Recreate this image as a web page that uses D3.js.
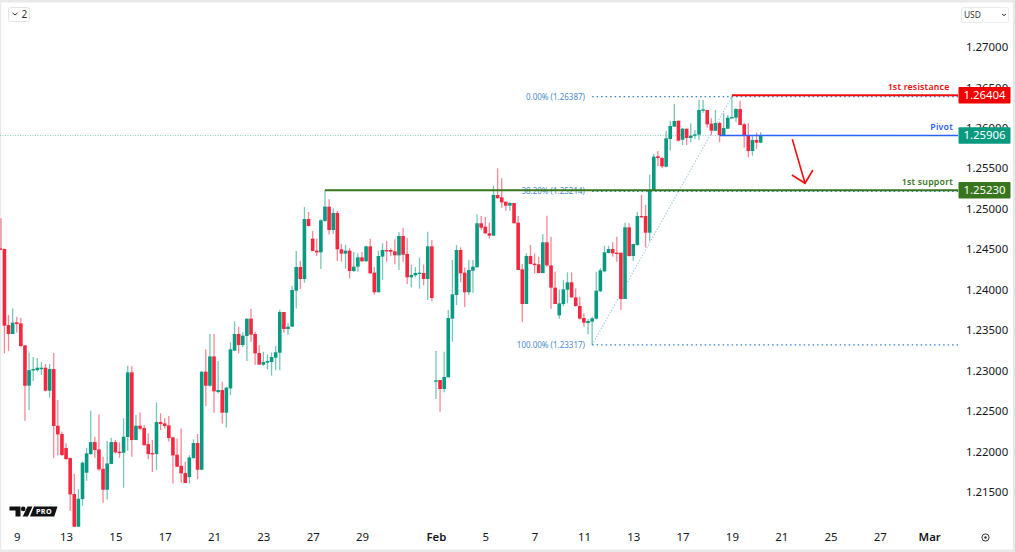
<!DOCTYPE html>
<html><head><meta charset="utf-8">
<script src="https://cdn.jsdelivr.net/npm/d3@7"></script>
<style>html,body{margin:0;padding:0;background:#fff;overflow:hidden}svg{display:block}
text{font-family:"Noto Sans",Roboto,sans-serif}</style></head><body>
<svg id="c" width="1015" height="552"></svg>
<script>
const opens=[1.24510,1.24502,1.23562,1.23451,1.23595,1.23583,1.23310,1.22812,1.23005,1.23005,
1.23026,1.23034,1.22750,1.23018,1.22317,1.22214,1.22041,1.21917,1.21472,1.21068,
1.21410,1.21736,1.21967,1.22115,1.22024,1.21785,1.21526,1.21843,1.22115,1.21996,
1.21983,1.22177,1.22977,1.22140,1.22317,1.22288,1.22090,1.21979,1.21967,1.22362,
1.22346,1.22321,1.22173,1.21958,1.21822,1.21732,1.21682,1.21917,1.22103,1.21773,
1.22985,1.22812,1.23174,1.22733,1.22758,1.22478,1.22779,1.23245,1.23451,1.23315,
1.23427,1.23641,1.23451,1.23216,1.23072,1.23097,1.23105,1.23159,1.23220,1.23723,
1.23513,1.23542,1.23987,1.24280,1.24131,1.24873,1.24630,1.24482,1.24461,1.24849,
1.25026,1.24737,1.24948,1.24498,1.24445,1.24482,1.24230,1.24284,1.24399,1.24350,
1.24535,1.24210,1.23967,1.24408,1.24490,1.24490,1.24474,1.24424,1.24663,1.24441,
1.24152,1.24177,1.24197,1.24206,1.24131,1.24535,1.22862,1.22882,1.22771,1.22915,
1.23641,1.23934,1.24490,1.24210,1.23967,1.24234,1.24276,1.24820,1.24778,1.24696,
1.24667,1.25170,1.25141,1.25087,1.25038,1.25071,1.24828,1.24251,1.23822,1.24416,
1.24321,1.24313,1.24205,1.24585,1.24300,1.24024,1.23682,1.23822,1.23999,1.24090,
1.23904,1.23797,1.23649,1.23587,1.23604,1.23641,1.23979,1.24226,1.24453,1.24502,
1.24457,1.24457,1.23884,1.24770,1.24416,1.24552,1.24910,1.24910,1.24704,1.25223,
1.25648,1.25627,1.25520,1.25862,1.26015,1.26089,1.25854,1.25990,1.25875,1.25904,
1.25916,1.26213,1.26221,1.26052,1.25965,1.26060,1.25908,1.25990,1.26122,1.26126,
1.26233,1.26044,1.25912,1.25714,1.25850,1.25817];
const highs=[1.24881,1.24510,1.23686,1.23768,1.23665,1.23653,1.23315,1.23224,1.23166,1.23154,
1.23104,1.23080,1.23080,1.23216,1.22634,1.22243,1.22099,1.21925,1.21719,1.21534,
1.21872,1.22045,1.22503,1.22181,1.22457,1.21934,1.22127,1.22169,1.22140,1.22111,
1.22408,1.23059,1.23051,1.22449,1.22482,1.22325,1.22222,1.22140,1.22606,1.22470,
1.22408,1.22437,1.22181,1.22160,1.22284,1.21872,1.21954,1.22148,1.22214,1.22993,
1.23261,1.23451,1.23451,1.23117,1.22861,1.22799,1.23348,1.23607,1.23541,1.23472,
1.23641,1.23760,1.23480,1.23311,1.23233,1.23200,1.23220,1.23303,1.23752,1.23723,
1.23583,1.24045,1.24478,1.24354,1.25022,1.24960,1.24725,1.24630,1.24869,1.25232,
1.25117,1.25005,1.24972,1.24564,1.24556,1.24511,1.24465,1.24449,1.24465,1.24544,
1.24630,1.24280,1.24482,1.24572,1.24601,1.24511,1.24622,1.24709,1.24766,1.24638,
1.24309,1.24280,1.24395,1.24309,1.24717,1.24614,1.23241,1.22882,1.23233,1.23748,
1.24366,1.24552,1.24523,1.24272,1.24366,1.24366,1.24931,1.24911,1.24898,1.24828,
1.25285,1.25500,1.25376,1.25087,1.25083,1.25071,1.24910,1.24317,1.24449,1.24552,
1.24449,1.24407,1.24684,1.24914,1.24655,1.24222,1.24003,1.24119,1.24214,1.24214,
1.24016,1.23913,1.23707,1.23637,1.23665,1.24222,1.24263,1.24543,1.24543,1.24585,
1.24655,1.24457,1.24828,1.24820,1.24564,1.24960,1.25170,1.25046,1.25421,1.25677,
1.25714,1.25644,1.25961,1.26089,1.26295,1.26089,1.26000,1.25990,1.26056,1.25974,
1.26345,1.26345,1.26221,1.26118,1.26221,1.26077,1.26180,1.26159,1.26387,1.26242,
1.26336,1.26064,1.26056,1.25912,1.25941,1.25945];
const lows=[1.24489,1.23212,1.23240,1.23451,1.23471,1.23286,1.22379,1.22511,1.22869,1.22985,
1.22944,1.22742,1.22663,1.21917,1.21950,1.21946,1.21893,1.21262,1.21068,1.21068,
1.21328,1.21637,1.21954,1.21921,1.21761,1.21365,1.21406,1.21843,1.21975,1.21921,
1.21550,1.22008,1.21934,1.22140,1.22263,1.22070,1.21901,1.21744,1.21769,1.22263,
1.22284,1.22123,1.21604,1.21810,1.21612,1.21608,1.21604,1.21909,1.21657,1.21773,
1.22560,1.22799,1.22478,1.22717,1.22346,1.22296,1.22696,1.23245,1.23212,1.23286,
1.23117,1.23356,1.23072,1.23072,1.23060,1.23014,1.22936,1.23002,1.23002,1.23468,
1.23443,1.23542,1.23765,1.24004,1.24086,1.24779,1.24474,1.24416,1.24255,1.24840,
1.24680,1.24692,1.24354,1.24346,1.24259,1.24140,1.24218,1.24222,1.24346,1.24346,
1.24193,1.23938,1.23967,1.24119,1.24346,1.24416,1.24313,1.24243,1.24346,1.24070,
1.24028,1.24152,1.24012,1.24053,1.23872,1.23855,1.22648,1.22491,1.22730,1.22915,
1.23356,1.23810,1.24090,1.23785,1.23934,1.23962,1.24276,1.24737,1.24688,1.24634,
1.24667,1.25129,1.25013,1.24976,1.24976,1.24820,1.24242,1.23599,1.23822,1.24313,
1.24201,1.24201,1.24201,1.24284,1.23764,1.23822,1.23641,1.23797,1.23830,1.23900,
1.23789,1.23632,1.23542,1.23447,1.23317,1.23632,1.23970,1.24214,1.24449,1.24407,
1.24345,1.23748,1.23884,1.24407,1.24358,1.24543,1.24894,1.24523,1.24605,1.25223,
1.25529,1.25500,1.25512,1.25718,1.26015,1.25829,1.25788,1.25788,1.25821,1.25858,
1.25850,1.26188,1.26003,1.25908,1.25961,1.25821,1.25908,1.25990,1.26118,1.26077,
1.26036,1.25755,1.25636,1.25656,1.25739,1.25809];
const closes=[1.24498,1.23554,1.23451,1.23591,1.23574,1.23302,1.22812,1.23005,1.23018,1.23034,
1.23034,1.22750,1.23018,1.22313,1.22210,1.21954,1.21905,1.21468,1.21068,1.21414,
1.21860,1.21975,1.22115,1.22016,1.21777,1.21526,1.21851,1.22115,1.21987,1.21979,
1.22181,1.22977,1.22140,1.22317,1.22280,1.22078,1.21967,1.21967,1.22362,1.22338,
1.22313,1.22165,1.21950,1.21810,1.21728,1.21608,1.21925,1.22103,1.21773,1.22985,
1.22812,1.23174,1.22742,1.22758,1.22478,1.22787,1.23261,1.23451,1.23315,1.23431,
1.23641,1.23443,1.23212,1.23072,1.23105,1.23117,1.23167,1.23225,1.23723,1.23513,
1.23542,1.23995,1.24280,1.24131,1.24873,1.24787,1.24478,1.24461,1.24857,1.25026,
1.24737,1.24948,1.24498,1.24445,1.24482,1.24230,1.24284,1.24399,1.24350,1.24535,
1.24202,1.23967,1.24416,1.24490,1.24482,1.24469,1.24424,1.24663,1.24432,1.24152,
1.24181,1.24206,1.24210,1.24131,1.24535,1.23896,1.22878,1.22771,1.22920,1.23649,
1.23942,1.24490,1.24202,1.23967,1.24243,1.24284,1.24820,1.24766,1.24696,1.24667,
1.25170,1.25129,1.25079,1.25038,1.25071,1.24820,1.24242,1.23822,1.24416,1.24317,
1.24308,1.24205,1.24585,1.24300,1.24024,1.23822,1.23830,1.24003,1.24090,1.23904,
1.23797,1.23641,1.23591,1.23612,1.23645,1.23987,1.24238,1.24461,1.24502,1.24449,
1.24449,1.23884,1.24770,1.24416,1.24564,1.24910,1.24894,1.24704,1.25223,1.25644,
1.25627,1.25524,1.25871,1.26023,1.26085,1.25842,1.25990,1.25875,1.25904,1.25920,
1.26221,1.26229,1.26044,1.25965,1.26060,1.25912,1.25998,1.26126,1.26134,1.26233,
1.26036,1.25904,1.25714,1.25850,1.25817,1.25906];

const priceTicks=[1.27,1.265,1.26,1.255,1.25,1.245,1.24,1.235,1.23,1.225,1.22,1.215];
const dateTickBars=[4,16,28,40,52,64,76,88,106,118,130,142,154,166,178,190,202,214,226];
const dateTickLabels=["9","13","15","17","21","23","27","29","Feb","5","7","11","13","17","19","21","25","27","Mar"];
const fibLevels=[1.26387,1.25214,1.23317];
const fibLabels=["0.00% (1.26387)","38.20% (1.25214)","100.00% (1.23317)"];
const fibStartBar=144, fibEndBar=178;
const levelNames=["1st resistance","Pivot","1st support"];
const levelValues=[1.26404,1.25906,1.25230];
const levelStartBars=[178,175,79];
const levelColors=["#f20d0d","#2962ff","#38761d"];
const tagColors=["#f20000","#089981","#38761d"];
const arrowBars=[192.7,195.8], arrowPrices=[1.25859,1.25315];
const arrowHeadBars=[192.6,195.8,197.7], arrowHeadPrices=[1.25417,1.25315,1.25479];

const W=1015,H=552,plotRight=958;
const x=d3.scaleLinear().domain([0,185]).range([0.3,760.65]);
const y=d3.scaleLinear().domain([1.215,1.27]).range([491.8,47]);
const svg=d3.select("#c");
const up="#089981",dn="#f7263f";
const bars=d3.range(opens.length);

svg.append("rect").attr("width",W).attr("height",H).attr("fill","#fff");

// window border
svg.append("rect").attr("x",0).attr("y",0).attr("width",W).attr("height",2.5).attr("fill","#e9e9e9");
svg.append("rect").attr("x",0).attr("y",0).attr("width",1.2).attr("height",H).attr("fill","#e9e9e9");
svg.append("rect").attr("x",W-2).attr("y",0).attr("width",2).attr("height",H).attr("fill","#e9e9e9");
svg.append("rect").attr("x",0).attr("y",H-2.5).attr("width",W).attr("height",2.5).attr("fill","#e9e9e9");

// last price dotted line
svg.append("line").attr("x1",0).attr("x2",plotRight)
  .attr("y1",y(closes[closes.length-1])).attr("y2",y(closes[closes.length-1]))
  .attr("stroke","#089981").attr("stroke-width",1).attr("stroke-dasharray","1 1.5").attr("opacity",.45);

// fib
const fibColor="#2f80cc";
svg.append("line").attr("x1",x(fibStartBar)).attr("x2",x(fibEndBar))
  .attr("y1",y(fibLevels[2])).attr("y2",y(fibLevels[0]))
  .attr("stroke","#a9cbe8").attr("stroke-width",1.1).attr("stroke-dasharray","1.5 1.5");
svg.selectAll(".fib").data(fibLevels).join("line").attr("class","fib")
  .attr("x1",x(fibStartBar)).attr("x2",plotRight)
  .attr("y1",d=>y(d)).attr("y2",d=>y(d))
  .attr("stroke",fibColor).attr("stroke-width",1.2).attr("stroke-dasharray","1.5 3");

// candles
const g=svg.append("g");
g.selectAll(".w").data(bars).join("line").attr("class","w")
  .attr("x1",i=>x(i)+(i==0?.7:0)).attr("x2",i=>x(i)+(i==0?.7:0))
  .attr("y1",i=>y(highs[i])).attr("y2",i=>y(lows[i]))
  .attr("stroke",i=>closes[i]>=opens[i]?up:dn).attr("stroke-width",1.3).attr("opacity",.55);
g.selectAll(".b").data(bars).join("rect").attr("class","b")
  .attr("x",i=>x(i)-1.8).attr("width",3.6)
  .attr("y",i=>y(Math.max(opens[i],closes[i])))
  .attr("height",i=>Math.max(1.4,Math.abs(y(opens[i])-y(closes[i]))))
  .attr("fill",i=>closes[i]>=opens[i]?up:dn);

// fib labels
svg.selectAll(".fl").data(fibLabels).join("text").attr("class","fl")
  .attr("x",585).attr("y",(d,i)=>y(fibLevels[i])+3).attr("text-anchor","end")
  .attr("font-size",8).attr("fill","#4a8ccb").text(d=>d);

// horizontal levels
svg.selectAll(".lv").data(levelValues).join("line").attr("class","lv")
  .attr("x1",(d,i)=>x(levelStartBars[i])).attr("x2",plotRight)
  .attr("y1",d=>y(d)).attr("y2",d=>y(d))
  .attr("stroke",(d,i)=>levelColors[i]).attr("stroke-width",(d,i)=>i==1?1.5:2);
svg.selectAll(".ln").data(levelNames).join("text").attr("class","ln")
  .attr("x",(d,i)=>i==0?949.5:953).attr("y",(d,i)=>y(levelValues[i])-5)
  .attr("text-anchor","end").attr("font-size",8.8).attr("font-weight",600).attr("letter-spacing",.2)
  .attr("fill",(d,i)=>levelColors[i]).text(d=>d);

// arrow
const arrow=d3.line().x(d=>x(d[0])).y(d=>y(d[1]));
const arrowStroke=p=>svg.append("path").attr("d",arrow(p)).attr("fill","none")
  .attr("stroke","#f01010").attr("stroke-width",1.6);
arrowStroke(arrowBars.map((b,i)=>[b,arrowPrices[i]]));
arrowStroke(arrowHeadBars.map((b,i)=>[b,arrowHeadPrices[i]]));

// price axis
const ya=svg.append("g").attr("transform",`translate(${plotRight},0)`)
  .call(d3.axisRight(y).tickValues(priceTicks).tickSize(0).tickPadding(8).tickFormat(d3.format(".5f")));
ya.select(".domain").remove();
ya.selectAll("text").attr("font-size",11.4).attr("font-family",'"Noto Sans",sans-serif').attr("fill","#131722");

// value tags
const tg=svg.selectAll(".tag").data(levelValues).join("g").attr("class","tag");
tg.append("rect").attr("x",plotRight+.5).attr("width",52).attr("height",16.5).attr("rx",1)
  .attr("y",d=>y(d)-8.2).attr("fill",(d,i)=>tagColors[i]);
tg.append("text").attr("x",plotRight+26.5).attr("y",d=>y(d)+4).attr("text-anchor","middle")
  .attr("font-size",11.4).attr("fill","#fff").text(d=>d3.format(".5f")(d));

// time axis
const xa=svg.append("g").attr("transform","translate(0,527)")
  .call(d3.axisBottom(x).tickValues(dateTickBars).tickSize(0).tickPadding(6)
    .tickFormat((d,i)=>dateTickLabels[i]));
xa.select(".domain").remove();
xa.selectAll("text").attr("font-size",11.4).attr("font-family",'"Noto Sans",sans-serif').attr("fill","#131722")
  .attr("font-weight",(d,i)=>dateTickLabels[i]=="Feb"||dateTickLabels[i]=="Mar"?600:400);

// interval button
svg.append("rect").attr("x",8.5).attr("y",7.5).attr("width",21).attr("height",14).attr("rx",2)
  .attr("fill","#fff").attr("stroke","#e3e4e8");
svg.append("path").attr("d","M12.5 13l2.5 2 2.5-2").attr("fill","none").attr("stroke","#333").attr("stroke-width",1);
svg.append("text").attr("x",21.5).attr("y",18).attr("font-size",10).attr("fill","#333").text("2");
// currency button
svg.append("rect").attr("x",961.5).attr("y",7.5).attr("width",47).attr("height",15).attr("rx",2)
  .attr("fill","#fff").attr("stroke","#ececef");
svg.append("text").attr("x",964).attr("y",18).attr("font-size",8.4).attr("fill","#333").text("USD");
svg.append("path").attr("d","M1002 14l2 1.6 2-1.6").attr("fill","none").attr("stroke","#333").attr("stroke-width",1);

// settings icon
svg.append("circle").attr("cx",985.5).attr("cy",537.5).attr("r",3.6).attr("fill","none").attr("stroke","#333").attr("stroke-width",1);
svg.append("circle").attr("cx",985.5).attr("cy",537.5).attr("r",1.2).attr("fill","#333");

// logo
const logo=svg.append("g").attr("fill","#111");
logo.append("path").attr("d","M9.5 506.4H20.5v10h-5v-5.8H9.5z");
logo.append("circle").attr("cx",23.2).attr("cy",508.9).attr("r",2.3);
logo.append("path").attr("d","M27.5 506.4h5l-4.6 10h-5.2z");
logo.append("path").attr("d","M34 506.4H57.5l-3.2 10H30z");
svg.append("text").attr("x",44).attr("y",514.4).attr("text-anchor","middle")
  .attr("font-size",7.2).attr("font-weight",700).attr("letter-spacing",.3).attr("fill","#fff").text("PRO");
</script></body></html>
